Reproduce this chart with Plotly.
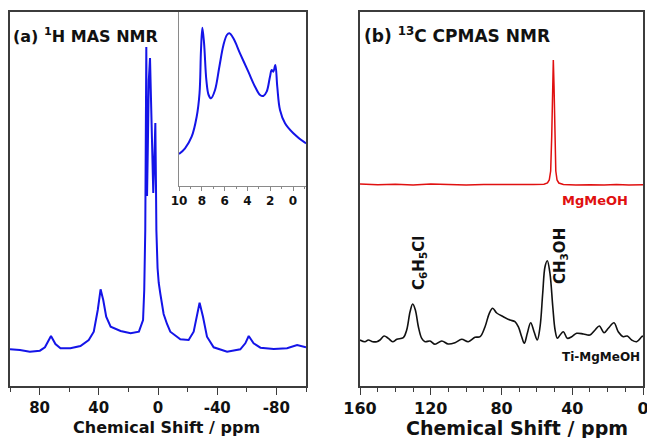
import plotly.graph_objects as go

# ---------------- data ----------------
# Panel (a): 1H MAS NMR, chemical shift (ppm) vs intensity (a.u.)
h_ppm = [100.0, 93.3, 86.6, 79.8, 76.4, 72.3, 69.3, 65.9, 59.2, 52.4, 46.8, 43.4,
         40.7, 38.8, 37.0, 35.0, 32.0, 25.3, 18.5, 12.9, 10.1, 9.3, 8.6, 8.2, 7.9,
         7.6, 7.4, 6.9, 6.2, 5.4, 4.7, 3.9, 3.2, 2.5, 1.8, 1.4, 1.1, 0.3, -0.5,
         -1.6, -3.8, -6.1, -8.3, -15.1, -20.7, -24.1, -26.4, -28.1, -30.4, -33.1,
         -37.6, -46.7, -55.6, -59.0, -61.3, -64.6, -69.2, -78.2, -87.2, -94.0, -100.0]
h_int = [36.7, 36.0, 34.3, 35.3, 38.7, 50.0, 42.0, 37.7, 37.7, 40.0, 46.0, 54.3,
         76.0, 96.7, 86.0, 69.3, 59.3, 55.0, 52.7, 54.3, 66.0, 96.0, 156.0, 256.0, 339.0,
         236.0, 190.0, 236.0, 306.0, 328.0, 286.0, 216.0, 193.0, 226.0, 263.0, 206.0, 156.0, 118.0, 103.0,
         92.0, 72.0, 62.0, 54.3, 46.7, 46.0, 54.3, 72.7, 83.3, 69.3, 49.3,
         38.7, 34.3, 36.7, 42.7, 50.0, 42.7, 38.3, 37.0, 37.7, 41.0, 38.7]

# Inset of panel (a): expanded 10 .. -1 ppm region
in_ppm = [10.0, 9.47, 8.89, 8.45, 8.2, 8.07, 7.95, 7.8, 7.6, 7.4, 7.19, 6.84, 6.46,
          6.1, 5.8, 5.58, 5.23, 4.65, 3.92, 3.33, 2.89, 2.6, 2.31, 2.02, 1.87, 1.73,
          1.55, 1.38, 1.14, 0.7, -0.03, -1.05, -1.14]
in_int = [32.0, 37.7, 49.3, 69.3, 92.7, 136.0, 158.3, 142.7, 106.0, 91.0, 87.7, 96.0, 119.3,
          141.0, 151.0, 152.7, 147.7, 132.7, 114.3, 99.3, 91.0, 90.0, 94.3, 109.3, 116.0, 114.3,
          121.0, 99.3, 76.0, 62.7, 52.7, 43.3, 42.8]

# Panel (b): 13C CPMAS NMR
ti_ppm = [160.0, 157.2, 155.3, 152.8, 150.5, 148.7, 146.4, 144.0, 141.5, 139.2, 135.5,
          133.6, 131.7, 130.2, 128.7, 127.0, 125.1, 123.2, 120.4, 117.6, 113.8, 110.1,
          106.3, 102.5, 98.8, 95.0, 92.1, 89.3, 86.9, 85.0, 82.7, 79.0, 75.2, 72.4,
          70.5, 68.6, 67.1, 65.4, 63.5, 61.6, 59.8, 58.2, 56.7, 55.4, 54.1, 52.6, 51.0,
          49.7, 48.4, 46.9, 45.0, 42.8, 40.3, 37.5, 33.7, 30.0, 27.1, 24.7, 22.0, 19.6,
          16.4, 14.0, 11.1, 8.9, 6.4, 3.6, 0.7, 0.0]
ti_int = [46.0, 44.3, 46.0, 44.3, 44.3, 46.0, 50.0, 47.7, 44.3, 46.7, 48.3,
          56.0, 74.3, 82.0, 76.0, 59.3, 47.7, 44.3, 45.0, 41.7, 45.0, 42.0,
          43.3, 46.7, 44.3, 48.7, 49.3, 59.3, 72.7, 77.7, 73.0, 69.3, 66.0, 64.3,
          59.3, 49.3, 42.7, 52.7, 63.3, 54.3, 46.0, 59.3, 92.7, 119.3, 125.3, 112.7, 79.3,
          56.0, 47.7, 51.0, 54.3, 47.7, 49.3, 52.7, 52.0, 51.0, 56.0, 60.0, 53.3, 57.7,
          63.3, 54.3, 49.3, 50.0, 46.0, 44.3, 49.3, 50.0]

mg_ppm = [160.0, 150.0, 140.0, 130.0, 120.0, 110.0, 100.0, 90.0, 80.0, 70.0, 62.0,
          56.0, 54.0, 53.0, 52.2, 51.6, 51.1, 50.7, 50.3, 49.8, 49.3, 48.6, 47.6,
          45.0, 38.0, 30.0, 22.0, 15.0, 8.0, 0.0]
mg_int = [202.0, 201.2, 201.8, 201.0, 202.0, 201.3, 201.0, 201.6, 201.4, 201.0, 201.5,
          201.8, 203.0, 206.0, 215.0, 250.0, 300.0, 326.0, 300.0, 250.0, 215.0, 206.0, 203.0,
          201.5, 201.0, 201.3, 201.0, 201.5, 201.0, 201.2]

# tick values and labels
a_ticks = [80, 40, 0, -40, -80]
a_labels = ["80", "40", "0", "-40", "-80"]
a_minor = [100, 60, 20, -20, -60, -100]
b_ticks = [160, 120, 80, 40, 0]
b_labels = ["160", "120", "80", "40", "0"]
b_minor = [150, 140, 130, 110, 100, 90, 70, 60, 50, 30, 20, 10]
in_ticks = [10, 8, 6, 4, 2, 0]
in_labels = ["10", "8", "6", "4", "2", "0"]
in_minor = [9, 7, 5, 3, 1, -1]

# ---------------- figure ----------------
FONT = "DejaVu Sans"
FRAME = "#3c3c3c"
W, H = 647, 438
ML, MR, MT, MB = 10, 4, 12, 52
PW, PH = W - ML - MR, H - MT - MB


def px(x):
    return (x - ML) / PW


def py(y):
    return (MT + PH - y) / PH


fig = go.Figure()
fig.add_trace(go.Scatter(x=h_ppm, y=h_int, mode="lines", line=dict(color="#1414e8", width=2),
                         xaxis="x", yaxis="y", showlegend=False))
fig.add_trace(go.Scatter(x=in_ppm, y=in_int, mode="lines", line=dict(color="#1414e8", width=2),
                         xaxis="x3", yaxis="y3", showlegend=False, line_shape="spline"))
fig.add_trace(go.Scatter(x=mg_ppm, y=mg_int, mode="lines", line=dict(color="#e01010", width=1.5),
                         xaxis="x2", yaxis="y2", showlegend=False))
fig.add_trace(go.Scatter(x=ti_ppm, y=ti_int, mode="lines", line=dict(color="#111111", width=1.6),
                         xaxis="x2", yaxis="y2", showlegend=False, line_shape="spline"))

axis_common = dict(showline=True, linecolor=FRAME, linewidth=1.5, mirror=True,
                   showgrid=False, zeroline=False, automargin=False)

fig.update_layout(
    width=W, height=H,
    margin=dict(l=ML, r=MR, t=MT, b=MB, autoexpand=False),
    paper_bgcolor="white", plot_bgcolor="white",
    xaxis=dict(domain=[0, px(306)], range=[100, -100], tickmode="array", tickvals=a_ticks,
               ticktext=a_labels, ticks="outside", ticklen=7, tickcolor=FRAME, tickwidth=1.2,
               tickfont=dict(family=FONT, size=15, color="#111", weight="bold"),
               minor=dict(tickmode="array", tickvals=a_minor, ticks="outside", ticklen=4,
                          tickcolor=FRAME), anchor="y", **axis_common),
    yaxis=dict(domain=[0, 1], range=[0, 374], showticklabels=False, ticks="", anchor="x",
               **axis_common),
    xaxis2=dict(domain=[px(360), 1], range=[160, 0], tickmode="array", tickvals=b_ticks,
                ticktext=b_labels, ticks="outside", ticklen=7, tickcolor=FRAME, tickwidth=1.2,
                ticklabeloverflow="allow",
                tickfont=dict(family=FONT, size=16, color="#111", weight="bold"),
                minor=dict(tickmode="array", tickvals=b_minor, ticks="outside", ticklen=4,
                           tickcolor=FRAME), anchor="y2", **axis_common),
    yaxis2=dict(domain=[0, 1], range=[0, 374], showticklabels=False, ticks="", anchor="x2",
                **axis_common),
    xaxis3=dict(domain=[px(179), px(306)], range=[10, -1.14], tickmode="array",
                tickvals=in_ticks, ticktext=in_labels, ticks="outside", ticklen=4,
                tickcolor="#888",
                tickfont=dict(family=FONT, size=12, color="#111", weight="bold"),
                minor=dict(tickmode="array", tickvals=in_minor, ticks="outside", ticklen=2,
                           tickcolor="#888"),
                showline=True, linecolor="#8a8a8a", linewidth=1, showgrid=False,
                zeroline=False, anchor="y3", automargin=False),
    yaxis3=dict(domain=[py(186), 1], range=[0, 174], showticklabels=False, ticks="",
                showline=True, linecolor="#8a8a8a", linewidth=1, showgrid=False,
                zeroline=False, anchor="x3", automargin=False),
)

ann = [
    dict(text="(a) <sup>1</sup>H MAS NMR", x=px(11), y=py(35), xanchor="left",
         yanchor="middle", font=dict(size=16)),
    dict(text="(b) <sup>13</sup>C CPMAS NMR", x=px(362), y=py(35), xanchor="left",
         yanchor="middle", font=dict(size=17)),
    dict(text="Chemical Shift / ppm", x=px(166.7), y=py(427), xanchor="center",
         yanchor="middle", font=dict(size=16)),
    dict(text="Chemical Shift / ppm", x=px(517), y=py(428), xanchor="center",
         yanchor="middle", font=dict(size=19)),
    dict(text="MgMeOH", x=px(595), y=py(200), xanchor="center", yanchor="middle",
         font=dict(size=13, color="#e01010")),
    dict(text="Ti-MgMeOH", x=px(600.5), y=py(357), xanchor="center", yanchor="middle",
         font=dict(size=12)),
    dict(text="C<sub>6</sub>H<sub>5</sub>Cl", x=px(419), y=py(263), xanchor="center",
         yanchor="middle", textangle=-90, font=dict(size=15)),
    dict(text="CH<sub>3</sub>OH", x=px(561), y=py(256), xanchor="center",
         yanchor="middle", textangle=-90, font=dict(size=15)),
]
for a in ann:
    a["font"] = dict(family=FONT, color=a["font"].get("color", "#111"), size=a["font"]["size"],
                     weight="bold")
    a.update(xref="paper", yref="paper", showarrow=False)
    fig.add_annotation(**a)

fig.write_html("out.html")
